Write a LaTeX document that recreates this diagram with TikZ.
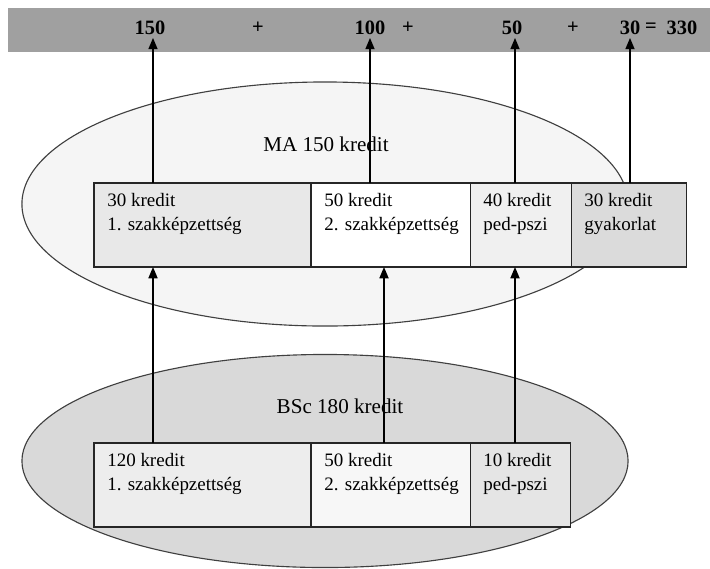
\documentclass[tikz,border=0pt]{standalone}
\usepackage{fontspec}
\setmainfont{Liberation Serif}
\usepackage{tikz}
\usetikzlibrary{positioning, arrows.meta, shapes.geometric}
\definecolor{sumbar}{HTML}{A0A0A0}
\definecolor{mafill}{HTML}{F5F5F5}
\definecolor{bscfill}{HTML}{D9D9D9}

\begin{document}
\begin{tikzpicture}[x=0.025cm, y=-0.025cm,
	oval/.style={ellipse, draw=black!75, line width=0.8pt, inner sep=0pt, minimum width=15.15cm},
	cell/.style={rectangle, draw=black!85, line width=0.8pt, inner sep=0pt, outer sep=0pt, minimum height=2.1cm},
	celltext/.style={anchor=north west, align=left, inner sep=0pt, xshift=0.325cm, yshift=-0.25cm, font={\fontsize{13.5}{17}\selectfont}},
	sumnum/.style={font={\fontsize{14.5}{17}\selectfont\bfseries}, inner sep=2pt},
	arr/.style={-{Triangle[length=8pt,width=6.5pt]}, line width=0.9pt}]
	\useasboundingbox (0,0) rectangle (710,568);

	% sum bar
	\node [fill=sumbar, inner sep=0pt, anchor=north west, minimum width=17.55cm, minimum height=1.1cm] (bar) at (8,8) {};
	\node [sumnum] (n150) at (150,28) {150};
	\node [sumnum] (p1) at (258,28) {+};
	\node [sumnum] (n100) at (370,28) {100};
	\node [sumnum] (p2) at (408,28) {+};
	\node [sumnum] (n50) at (512,28) {50};
	\node [sumnum] (p3) at (573,28) {+};
	\node [sumnum] (n30) at (630,28) {30};
	\node [sumnum] (eq) at (651,28) {=};
	\node [sumnum] (n330) at (682,28) {330};

	% the two programmes
	\node [oval, fill=mafill, minimum height=6.1cm] (ma) at (325,204) {};
	\node [oval, fill=bscfill, minimum height=5.325cm] (bsc) at (325,461) {};
	\node [font={\fontsize{15}{18}\selectfont}] (malabel) at (326,144) {MA 150 kredit};
	\node [font={\fontsize{15}{18}\selectfont}] (bsclabel) at (340,406) {BSc 180 kredit};

	% MA blocks
	\node [cell, fill=black!9, minimum width=5.425cm, anchor=north west] (ma1) at (94,183) {};
	\node [cell, fill=white, minimum width=3.975cm, right=0pt of ma1] (ma2) {};
	\node [cell, fill=black!6, minimum width=2.525cm, right=0pt of ma2] (ma3) {};
	\node [cell, fill=black!14, minimum width=2.875cm, right=0pt of ma3] (ma4) {};
	\node [celltext] (ma1t) at (ma1.north west) {30 kredit\\1. szakképzettség};
	\node [celltext] (ma2t) at (ma2.north west) {50 kredit\\2. szakképzettség};
	\node [celltext] (ma3t) at (ma3.north west) {40 kredit\\ped-pszi};
	\node [celltext] (ma4t) at (ma4.north west) {30 kredit\\gyakorlat};

	% BSc blocks
	\node [cell, fill=black!7, minimum width=5.425cm, anchor=north west] (bs1) at (94,443) {};
	\node [cell, fill=black!3, minimum width=3.975cm, right=0pt of bs1] (bs2) {};
	\node [cell, fill=black!10, minimum width=2.5cm, right=0pt of bs2] (bs3) {};
	\node [celltext] (bs1t) at (bs1.north west) {120 kredit\\1. szakképzettség};
	\node [celltext] (bs2t) at (bs2.north west) {50 kredit\\2. szakképzettség};
	\node [celltext] (bs3t) at (bs3.north west) {10 kredit\\ped-pszi};

	\coordinate (a1) at (153,0);
	\coordinate (a2) at (370,0);
	\coordinate (a3) at (515,0);
	\coordinate (a4) at (630,0);
	\coordinate (b2) at (384,0);

	\draw [arr] (ma1.north -| a1) -- (n150.south -| a1);
	\draw [arr] (ma2.north -| a2) -- (n100.south -| a2);
	\draw [arr] (ma3.north -| a3) -- (n50.south -| a3);
	\draw [arr] (ma4.north -| a4) -- (n30.south -| a4);

	\draw [arr] (bs1.north -| a1) -- (ma1.south -| a1);
	\draw [arr] (bs2.north -| b2) -- (ma2.south -| b2);
	\draw [arr] (bs3.north -| a3) -- (ma3.south -| a3);
\end{tikzpicture}
\end{document}
